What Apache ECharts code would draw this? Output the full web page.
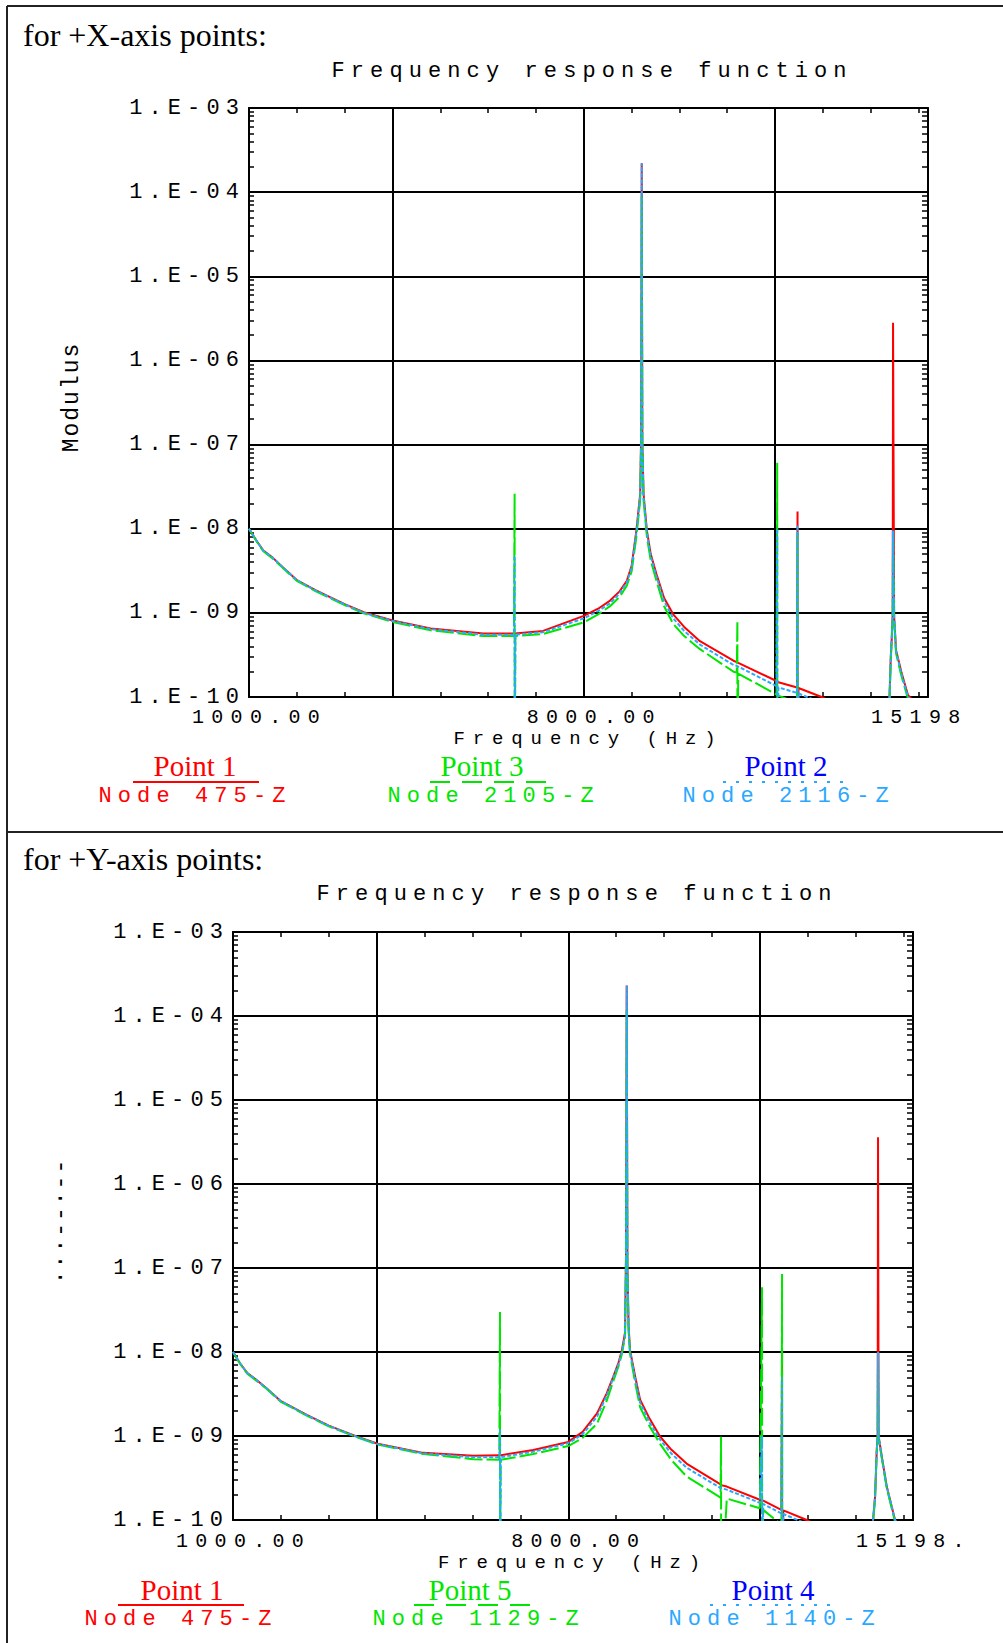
<!DOCTYPE html>
<html>
<head>
<meta charset="utf-8">
<script src="https://cdn.jsdelivr.net/npm/echarts@6/dist/echarts.min.js"></script>
<style>
  html, body { margin: 0; padding: 0; background: #fff; }
  #chart { width: 1003px; height: 1643px; }
  #chart text[style*="Mono"] { letter-spacing: 6.1px; }
  #chart text[style*="Mono"][style*="23px"] { letter-spacing: 2px; }
  #chart text[style*="Serif"] { letter-spacing: 0; }
</style>
</head>
<body>
<div id="chart"></div>
<script>
// ---- +X-axis points: frequency (Hz) and modulus per node ----
const freqX = [1000, 1150, 1300, 1500, 1700, 2000, 2400, 3000, 3400, 4000,
  4800, 5900, 6540, 6554, 6556, 6570, 7150, 8000, 8300, 8550,
  8750, 8900, 9000, 9100, 9180, 9200, 9212, 9225, 9250, 9320,
  9400, 9520, 9680, 9870, 10100, 10430, 11130, 11200, 11212, 11214,
  11230, 12030, 12045, 12047, 12070, 12460, 12470, 12472, 12490, 12975,
  13500, 14390, 14420, 14440, 14460, 14467, 14490, 14530, 14640, 14780,
  15198];
// Point 1, Node 475-Z
const point1X = [1.0e-8, 7.3e-9, 5.5e-9, 4.5e-9, 3.5e-9, 2.45e-9, 1.85e-9, 1.27e-9, 1.02e-9, 8.1e-10,
  6.5e-10, 5.7e-10, 5.7e-10, 5.7e-10, 5.7e-10, 5.7e-10, 6.1e-10, 9.2e-10, 1.12e-9, 1.4e-9,
  1.8e-9, 2.4e-9, 3.6e-9, 9.5e-9, 2.6e-8, 1.3e-7, 2.2e-4, 1.1e-7, 2.6e-8, 9.5e-9,
  5.0e-9, 2.9e-9, 1.5e-9, 9.6e-10, 6.8e-10, 4.6e-10, 2.7e-10, 2.6e-10, 2.6e-10, 2.6e-10,
  2.55e-10, 1.55e-10, 1.54e-10, 1.54e-10, 1.5e-10, 1.3e-10, 1.6e-8, 1e-11, 1.28e-10, 1.0e-10,
  7e-11, 9e-11, 3e-10, 5e-10, 1e-9, 2.8e-6, 9e-10, 3.6e-10, 2.0e-10, 1.05e-10,
  6e-11];
// Point 3, Node 2105-Z
const point3X = [1.0e-8, 7.2e-9, 5.4e-9, 4.4e-9, 3.45e-9, 2.4e-9, 1.8e-9, 1.24e-9, 9.9e-10, 7.8e-10,
  6.2e-10, 5.3e-10, 5.3e-10, 2.6e-8, 1e-11, 5.3e-10, 5.6e-10, 7.7e-10, 9.6e-10, 1.2e-9,
  1.55e-9, 2.1e-9, 3.1e-9, 8.0e-9, 2.2e-8, 1.1e-7, 9.0e-5, 9.0e-8, 2.2e-8, 8.0e-9,
  4.2e-9, 2.4e-9, 1.2e-9, 7.4e-10, 5.3e-10, 3.7e-10, 2.0e-10, 1.95e-10, 8.0e-10, 1e-11,
  1.9e-10, 1.07e-10, 6.1e-8, 1e-11, 1.04e-10, 8.5e-11, 9e-9, 1e-11, 8.4e-11, 7e-11,
  5e-11, 8e-11, 2.8e-10, 4.8e-10, 9.5e-10, 9.5e-9, 8.5e-10, 3.3e-10, 1.8e-10, 9.5e-11,
  5e-11];
// Point 2, Node 2116-Z
const point2X = [1.0e-8, 7.3e-9, 5.5e-9, 4.5e-9, 3.5e-9, 2.45e-9, 1.83e-9, 1.26e-9, 1.0e-9, 8.0e-10,
  6.4e-10, 5.5e-10, 5.5e-10, 4.8e-9, 1e-11, 5.5e-10, 5.9e-10, 8.6e-10, 1.05e-9, 1.3e-9,
  1.7e-9, 2.3e-9, 3.4e-9, 9.0e-9, 2.4e-8, 1.2e-7, 2.2e-4, 1.0e-7, 2.4e-8, 9.0e-9,
  4.7e-9, 2.7e-9, 1.38e-9, 8.6e-10, 6.1e-10, 4.2e-10, 2.4e-10, 2.35e-10, 2.35e-10, 2.35e-10,
  2.3e-10, 1.35e-10, 1.0e-8, 1e-11, 1.3e-10, 1.12e-10, 1.1e-8, 1e-11, 1.1e-10, 8.5e-11,
  6e-11, 8.5e-11, 3e-10, 5e-10, 1e-9, 9.5e-9, 9e-10, 3.5e-10, 1.9e-10, 1.0e-10,
  5.5e-11];

// ---- +Y-axis points ----
const freqY = [1000, 1150, 1300, 1500, 1700, 2000, 2540, 3000, 3580, 4020,
  4970, 6020, 6560, 6575, 6577, 6590, 7270, 8000, 8300, 8600,
  8800, 8940, 9050, 9120, 9185, 9205, 9221, 9235, 9260, 9290,
  9400, 9500, 9700, 9920, 10150, 10470, 11180, 11190, 11192, 11310,
  12000, 12046, 12048, 12070, 12450, 12464, 12466, 12490, 12980, 13500,
  14357, 14406, 14441, 14460, 14468, 14480, 14546, 14650, 14823, 15198];
// Point 1, Node 475-Z
const point1Y = [1.0e-8, 7.3e-9, 5.6e-9, 4.6e-9, 3.7e-9, 2.6e-9, 1.78e-9, 1.33e-9, 9.9e-10, 8.1e-10,
  6.3e-10, 5.8e-10, 5.9e-10, 5.9e-10, 5.9e-10, 5.9e-10, 6.8e-10, 8.5e-10, 1.12e-9, 1.86e-9,
  3.2e-9, 5.1e-9, 7.5e-9, 1.05e-8, 1.7e-8, 1.3e-7, 2.3e-4, 1.1e-7, 2.0e-8, 1.05e-8,
  5.0e-9, 2.7e-9, 1.6e-9, 9.8e-10, 6.9e-10, 4.7e-10, 2.65e-10, 2.6e-10, 2.6e-10, 2.5e-10,
  1.74e-10, 1.72e-10, 1.72e-10, 1.7e-10, 1.32e-10, 9.8e-9, 1e-11, 1.3e-10, 1.0e-10, 7e-11,
  9e-11, 1.9e-10, 6.8e-10, 1.0e-9, 3.6e-6, 1.0e-9, 5.7e-10, 2.5e-10, 1.0e-10, 5e-11];
// Point 5, Node 1129-Z
const point5Y = [1.0e-8, 7.2e-9, 5.5e-9, 4.5e-9, 3.65e-9, 2.55e-9, 1.75e-9, 1.3e-9, 9.7e-10, 7.9e-10,
  6.1e-10, 5.3e-10, 5.2e-10, 3.0e-8, 1e-11, 5.2e-10, 6.1e-10, 7.6e-10, 9.5e-10, 1.4e-9,
  2.6e-9, 4.5e-9, 6.8e-9, 9.5e-9, 1.5e-8, 1.1e-7, 1.2e-4, 9e-8, 1.8e-8, 9.5e-9,
  4.2e-9, 2.2e-9, 1.3e-9, 8.0e-10, 5.2e-10, 3.3e-10, 1.85e-10, 9.8e-10, 1e-11, 1.8e-10,
  1.38e-10, 5.9e-8, 1e-11, 1.32e-10, 8.8e-11, 8.5e-8, 1e-11, 8.6e-11, 7e-11, 5e-11,
  8.5e-11, 1.8e-10, 6.5e-10, 9.5e-10, 1.0e-8, 9.5e-10, 5.5e-10, 2.4e-10, 9.5e-11, 4.5e-11];
// Point 4, Node 1140-Z
const point4Y = [1.0e-8, 7.3e-9, 5.6e-9, 4.6e-9, 3.7e-9, 2.6e-9, 1.77e-9, 1.32e-9, 9.8e-10, 8.0e-10,
  6.2e-10, 5.6e-10, 5.6e-10, 1.2e-9, 1e-11, 5.6e-10, 6.5e-10, 8.2e-10, 1.05e-9, 1.7e-9,
  3.0e-9, 4.9e-9, 7.2e-9, 1.0e-8, 1.6e-8, 1.2e-7, 2.3e-4, 1.0e-7, 1.9e-8, 1.0e-8,
  4.7e-9, 2.5e-9, 1.45e-9, 9.0e-10, 6.2e-10, 4.2e-10, 2.4e-10, 2.4e-10, 2.4e-10, 2.3e-10,
  1.6e-10, 1.0e-9, 1e-11, 1.55e-10, 1.2e-10, 5e-9, 1e-11, 1.18e-10, 9e-11, 6e-11,
  9e-11, 1.9e-10, 6.7e-10, 1.0e-9, 1.0e-8, 1.0e-9, 5.6e-10, 2.5e-10, 1.0e-10, 5e-11];

// ---- axis ticks and labels ----
const yTickLabels = ['1.E-10', '1.E-09', '1.E-08', '1.E-07', '1.E-06', '1.E-05', '1.E-04', '1.E-03'];
const xLabelValues = [1000, 8000, 15198];
const xTickLabelsX = ['1000.00', '8000.00', '15198'];
const xTickLabelsY = ['1000.00', '8000.00', '15198.'];
const xGridValues = [4000, 8000, 12000];
const xMinorValues = [2000, 3000, 4000, 5000, 6000, 7000, 8000, 9000, 10000, 11000, 12000, 13000, 14000, 15000];
const decadeExponents = [-10, -9, -8, -7, -6, -5, -4];
const minorMantissas = [2, 3, 4, 5, 6, 7, 8, 9];

const MONO = 'Liberation Mono';
const SERIF = 'Liberation Serif';
const RED = '#ff0000', GREEN = '#00e600', SKY = '#2aa8ff', BLUE = '#0000ff';

// log-decade minor tick positions, expressed as exponents
const logTickPositions = [];
decadeExponents.forEach(d => minorMantissas.forEach(m => logTickPositions.push(d + Math.log10(m))));

const panels = [
  {
    grid: { left: 249, top: 108, width: 679, height: 589 },
    freq: freqX,
    xLabels: xTickLabelsX,
    labelMargin: 12,
    nameGap: 34.1,
    caption: { text: 'for +X-axis points:', x: 23, y: 35 },
    title: { x: 331.5, y: 71 },
    yName: { text: 'Modulus', x: 72, y: 397 },
    legendY: { label: 766, rule: 782, node: 796 },
    series: [
      { name: 'Point 1', values: point1X, color: RED, dash: 'solid',
        legend: { labelColor: RED, cx: 195, rule: [133, 259], ruleDash: null, ruleColor: RED, node: 'Node 475-Z', nodeX: 98.5, nodeColor: RED } },
      { name: 'Point 3', values: point3X, color: GREEN, dash: [18, 4],
        legend: { labelColor: GREEN, cx: 482, rule: [430, 547], ruleDash: [20, 12], ruleColor: GREEN, node: 'Node 2105-Z', nodeX: 387.5, nodeColor: GREEN } },
      { name: 'Point 2', values: point2X, color: SKY, dash: [4, 2],
        legend: { labelColor: BLUE, cx: 786, rule: [723, 851], ruleDash: [3, 10], ruleColor: SKY, node: 'Node 2116-Z', nodeX: 682.5, nodeColor: SKY } }
    ]
  },
  {
    grid: { left: 233, top: 932, width: 680, height: 588 },
    freq: freqY,
    xLabels: xTickLabelsY,
    labelMargin: 13,
    nameGap: 35.1,
    caption: { text: 'for +Y-axis points:', x: 23, y: 859 },
    title: { x: 316.5, y: 894 },
    yName: { text: '\u00b7\u00b7\u00b7--\u00b7--', x: 61, y: 1221 },
    legendY: { label: 1590, rule: 1605, node: 1619 },
    series: [
      { name: 'Point 1', values: point1Y, color: RED, dash: 'solid',
        legend: { labelColor: RED, cx: 182, rule: [118, 244], ruleDash: null, ruleColor: RED, node: 'Node 475-Z', nodeX: 84.5, nodeColor: RED } },
      { name: 'Point 5', values: point5Y, color: GREEN, dash: [18, 4],
        legend: { labelColor: GREEN, cx: 470, rule: [414, 530], ruleDash: [20, 12], ruleColor: GREEN, node: 'Node 1129-Z', nodeX: 372.5, nodeColor: GREEN } },
      { name: 'Point 4', values: point4Y, color: SKY, dash: [4, 2],
        legend: { labelColor: BLUE, cx: 773, rule: [710, 837], ruleDash: [3, 10], ruleColor: SKY, node: 'Node 1140-Z', nodeX: 668.5, nodeColor: SKY } }
    ]
  }
];

const option = {
  animation: false,
  backgroundColor: '#ffffff',
  grid: [], xAxis: [], yAxis: [], series: [], graphic: []
};

function monoText(text, x, y, size, color) {
  return {
    type: 'text', x: x, y: y, silent: true,
    style: { text: text, fill: color, fontFamily: MONO, fontSize: size, lineHeight: 16,
      align: 'left', textAlign: 'left', verticalAlign: 'middle', textVerticalAlign: 'middle' }
  };
}

panels.forEach((p, g) => {
  option.grid.push({ left: p.grid.left, top: p.grid.top, width: p.grid.width, height: p.grid.height,
    containLabel: false, outerBoundsMode: 'none' });
  const xi = option.xAxis.length;
  const yi = option.yAxis.length;

  // frequency axis: grid lines at 4000/8000/12000, labels at ends and 8000
  option.xAxis.push({
    gridIndex: g, type: 'value', min: 1000, max: 15198, position: 'bottom',
    axisLine: { show: true, onZero: false, lineStyle: { color: '#000', width: 2 } },
    axisTick: { show: false, customValues: xGridValues },
    splitLine: { show: true, lineStyle: { color: '#000', width: 2 } },
    axisLabel: {
      show: true, customValues: xLabelValues, margin: p.labelMargin,
      formatter: v => {
        let k = 0;
        xLabelValues.forEach((lv, i) => { if (Math.abs(lv - v) < Math.abs(xLabelValues[k] - v)) k = i; });
        return '{t|' + p.xLabels[k] + '}';
      },
      rich: { t: { width: 114, height: 16, lineHeight: 16, align: 'left', fontFamily: MONO, fontSize: 20, color: '#000' } }
    },
    name: 'Frequency (Hz)', nameLocation: 'middle', nameGap: p.nameGap, nameMoveOverlap: false,
    nameTextStyle: { fontFamily: MONO, fontSize: 19, lineHeight: 16, height: 16, color: '#000' }
  });
  // inward minor ticks on the bottom edge
  option.xAxis.push({
    gridIndex: g, type: 'value', min: 1000, max: 15198, position: 'bottom',
    axisLine: { show: false, onZero: false },
    axisTick: { show: true, inside: true, length: 5, customValues: xMinorValues, lineStyle: { color: '#000', width: 1.5 } },
    axisLabel: { show: false }, splitLine: { show: false }
  });
  // top frame edge with inward ticks
  option.xAxis.push({
    gridIndex: g, type: 'value', min: 1000, max: 15198, position: 'top',
    axisLine: { show: true, onZero: false, lineStyle: { color: '#000', width: 2 } },
    axisTick: { show: true, inside: true, length: 5, customValues: xMinorValues, lineStyle: { color: '#000', width: 1.5 } },
    axisLabel: { show: false }, splitLine: { show: false }
  });

  // modulus axis (log)
  option.yAxis.push({
    gridIndex: g, type: 'log', logBase: 10, min: 1e-10, max: 1e-3, splitNumber: 7, position: 'left',
    axisLine: { show: true, onZero: false, lineStyle: { color: '#000', width: 2 } },
    axisTick: { show: false },
    splitLine: { show: true, lineStyle: { color: '#000', width: 2 } },
    axisLabel: {
      margin: 4, fontFamily: MONO, fontSize: 22, lineHeight: 16, color: '#000',
      formatter: v => yTickLabels[Math.round(Math.log10(v)) + 10] || ''
    }
  });
  // left edge log minor ticks
  option.yAxis.push({
    gridIndex: g, type: 'value', min: -10, max: -3, position: 'left',
    axisLine: { show: false, onZero: false },
    axisTick: { show: true, inside: true, length: 5, customValues: logTickPositions, lineStyle: { color: '#000', width: 1.5 } },
    axisLabel: { show: false }, splitLine: { show: false }
  });
  // right frame edge with log minor ticks
  option.yAxis.push({
    gridIndex: g, type: 'value', min: -10, max: -3, position: 'right',
    axisLine: { show: true, onZero: false, lineStyle: { color: '#000', width: 2 } },
    axisTick: { show: true, inside: true, length: 6, customValues: logTickPositions, lineStyle: { color: '#000', width: 1.5 } },
    axisLabel: { show: false }, splitLine: { show: false }
  });

  p.series.forEach(s => {
    option.series.push({
      type: 'line', name: s.name, xAxisIndex: xi, yAxisIndex: yi,
      data: p.freq.map((f, i) => [f, s.values[i]]),
      showSymbol: false, symbol: 'none', silent: true, clip: true,
      emphasis: { disabled: true },
      lineStyle: { color: s.color, width: 2, type: s.dash }
    });

    const L = s.legend;
    option.graphic.push({
      type: 'text', x: L.cx, y: p.legendY.label, silent: true,
      style: { text: s.name, fill: L.labelColor, fontFamily: SERIF, fontSize: 29, lineHeight: 24,
        align: 'center', textAlign: 'center', verticalAlign: 'middle', textVerticalAlign: 'middle' }
    });
    option.graphic.push({
      type: 'line', silent: true,
      shape: { x1: L.rule[0], y1: p.legendY.rule, x2: L.rule[1], y2: p.legendY.rule },
      style: { stroke: L.ruleColor, lineWidth: 2, lineDash: L.ruleDash }
    });
    option.graphic.push(monoText(L.node, L.nodeX, p.legendY.node, 22, L.nodeColor));
  });

  option.graphic.push({
    type: 'text', x: p.caption.x, y: p.caption.y, silent: true,
    style: { text: p.caption.text, fill: '#000', fontFamily: SERIF, fontSize: 32, lineHeight: 26,
      align: 'left', textAlign: 'left', verticalAlign: 'middle', textVerticalAlign: 'middle' }
  });
  option.graphic.push(monoText('Frequency response function', p.title.x, p.title.y, 22, '#000'));
  option.graphic.push({
    type: 'text', x: p.yName.x, y: p.yName.y, rotation: Math.PI / 2, silent: true,
    style: { text: p.yName.text, fill: '#000', fontFamily: MONO, fontSize: 23, lineHeight: 16,
      align: 'center', textAlign: 'center', verticalAlign: 'middle', textVerticalAlign: 'middle' }
  });
});

// page frame: outer border and divider between the two panels
[[7, 6, 1003, 6], [7, 6, 7, 1643], [7, 832, 1003, 832]].forEach(c => {
  option.graphic.push({ type: 'line', silent: true, shape: { x1: c[0], y1: c[1], x2: c[2], y2: c[3] },
    style: { stroke: '#222', lineWidth: 2 } });
});

const chart = echarts.init(document.getElementById('chart'), null, { renderer: 'svg', width: 1003, height: 1643 });
chart.setOption(option);

// wide-pitch plotter lettering: every monospaced text keeps a ~19.3px character pitch
function spaceGlyphs() {
  document.querySelectorAll('#chart text').forEach(el => {
    const cs = getComputedStyle(el);
    const size = parseFloat(cs.fontSize);
    if (cs.fontFamily.indexOf('Mono') >= 0) {
      const pitch = size > 22.5 ? 15.8 : 19.3;
      el.style.letterSpacing = Math.max(0, pitch - 0.6 * size).toFixed(2) + 'px';
    } else {
      el.style.letterSpacing = '0px';
    }
  });
}
chart.on('finished', spaceGlyphs);
setTimeout(spaceGlyphs, 0);
setTimeout(spaceGlyphs, 200);
</script>
</body>
</html>
